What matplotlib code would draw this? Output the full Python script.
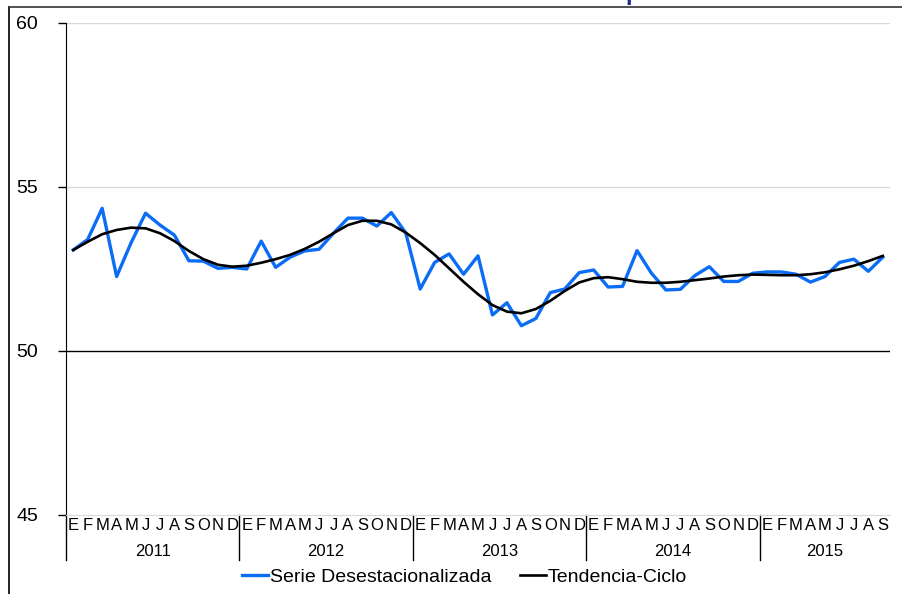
import numpy as np
import matplotlib
matplotlib.use('Agg')
import matplotlib.pyplot as plt
from matplotlib.lines import Line2D

plt.rcParams['font.family'] = ['Liberation Sans', 'DejaVu Sans']

# 2011-01 .. 2015-09
months = ['E', 'F', 'M', 'A', 'M', 'J', 'J', 'A', 'S', 'O', 'N', 'D']
years = ['2011', '2012', '2013', '2014', '2015']
serie = [53.08, 53.40, 54.35, 52.27, 53.30, 54.20, 53.84, 53.53, 52.75, 52.74, 52.52, 52.55,
         52.50, 53.35, 52.55, 52.86, 53.05, 53.10, 53.59, 54.05, 54.05, 53.81, 54.22, 53.60,
         51.89, 52.70, 52.96, 52.34, 52.90, 51.10, 51.47, 50.77, 50.99, 51.78, 51.89, 52.39,
         52.47, 51.95, 51.97, 53.06, 52.37, 51.86, 51.88, 52.30, 52.57, 52.12, 52.12, 52.37,
         52.41, 52.41, 52.34, 52.10, 52.27, 52.70, 52.80, 52.43, 52.86]
tendencia = [53.08, 53.33, 53.56, 53.69, 53.76, 53.74, 53.59, 53.35, 53.05, 52.80, 52.63, 52.57,
             52.60, 52.69, 52.80, 52.93, 53.11, 53.33, 53.59, 53.84, 53.97, 53.97, 53.86, 53.61,
             53.29, 52.93, 52.52, 52.11, 51.73, 51.40, 51.20, 51.15, 51.28, 51.53, 51.83, 52.09,
             52.22, 52.25, 52.19, 52.11, 52.08, 52.08, 52.11, 52.16, 52.21, 52.27, 52.31, 52.33,
             52.32, 52.31, 52.31, 52.34, 52.40, 52.49, 52.60, 52.74, 52.90]
yticks = [45, 50, 55, 60]

n = len(serie)
x = np.arange(n)

fig = plt.figure(figsize=(9.02, 5.94), dpi=100)
ax = fig.add_axes([0.0732, 0.1330, 0.9135, 0.8283])

# grid lines: 50 is drawn black
for v in yticks[1:]:
    ax.axhline(v, color='black' if v == 50 else '#d9d9d9', lw=1.0, zorder=1)

ax.plot(x, serie, color='#0B6DF6', lw=2.4, label='Serie Desestacionalizada', zorder=3)
ax.plot(x, tendencia, color='black', lw=1.9, label='Tendencia-Ciclo', zorder=4)

ax.set_xlim(-0.5, n - 0.5)
ax.set_ylim(45, 60)
ax.set_yticks(yticks)
ax.set_yticklabels([str(v) for v in yticks], fontsize=14)
ax.tick_params(axis='y', length=6, width=1, pad=14)
ax.set_xticks([])
for s in ['top', 'right']:
    ax.spines[s].set_visible(False)
ax.spines['bottom'].set_color('#d9d9d9')
ax.spines['left'].set_color('black')

# month / year category labels
trans = ax.get_xaxis_transform()
for i in range(n):
    ax.text(i, -0.021, months[i % 12], transform=trans, ha='center', va='center',
            fontsize=12)
for k, yr in enumerate(years):
    start = k * 12 - 0.5
    end = min(start + 12, n - 0.5)
    ax.plot([start, start], [0, -0.0915], transform=trans, color='black', lw=1.0,
            clip_on=False)
    ax.text((start + end) / 2, -0.074, yr, transform=trans, ha='center', va='center',
            fontsize=12)

ax.legend(loc='center', bbox_to_anchor=(0.515, 0.029), bbox_transform=fig.transFigure,
          ncol=2, frameon=False, fontsize=14, handlelength=1.3, handletextpad=0.1,
          columnspacing=1.5)

# outer frame (cropped) and title fragment
fig.add_artist(Line2D([0.010, 0.010], [0.0, 0.988], color='black', lw=1.2))
fig.add_artist(Line2D([0.010, 1.0], [0.988, 0.988], color='#333333', lw=1.2))
fig.text(0.693, 1.0, 'p', color='#1c2a8c', fontsize=17, fontweight='bold', va='baseline')

fig.savefig('out.png', dpi=100)
